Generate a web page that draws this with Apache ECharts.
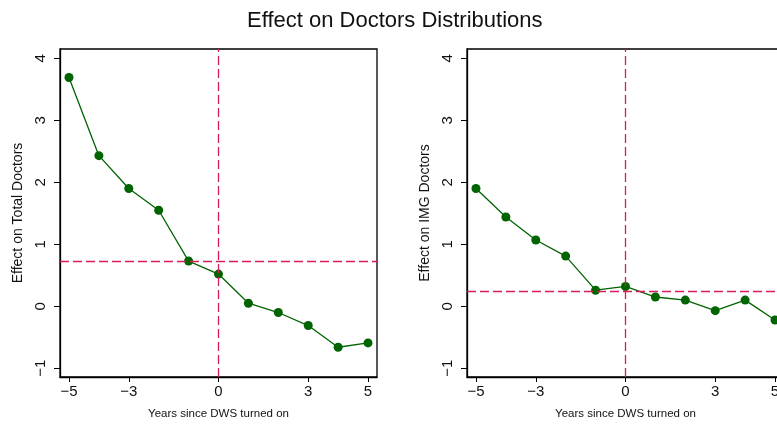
<!DOCTYPE html>
<html>
<head>
<meta charset="utf-8">
<script src="https://cdn.jsdelivr.net/npm/echarts@6/dist/echarts.min.js"></script>
<style>
html,body{margin:0;padding:0;background:#fff;overflow:hidden;width:777px;height:425px;}
#chart{width:790px;height:425px;}
</style>
</head>
<body>
<div id="chart"></div>
<script>
const years = [-5, -4, -3, -2, -1, 0, 1, 2, 3, 4, 5];
const totalEffect = [3.69, 2.43, 1.90, 1.55, 0.73, 0.52, 0.05, -0.10, -0.31, -0.66, -0.59];
const imgEffect = [1.90, 1.44, 1.07, 0.81, 0.26, 0.32, 0.15, 0.10, -0.07, 0.10, -0.22];
const totalMean = 0.72;
const imgMean = 0.25;
const xTicks = [-5, -3, 0, 3, 5];
const yTicks = [-1, 0, 1, 2, 3, 4];
const titleText = 'Effect on Doctors Distributions';
const xName = 'Years since DWS turned on';
const yNames = ['Effect on Total Doctors', 'Effect on IMG Doctors'];

const FONT = 'Liberation Sans, Arial, Helvetica, sans-serif';
const lineColor = '#006400';
const refColor = '#d81b5a';

function fmt(v) { return v < 0 ? '\u2212' + Math.abs(v) : String(v); }

function xAxisCfg(idx) {
  return {
    type: 'value', gridIndex: idx, min: -5.3, max: 5.3,
    name: xName, nameLocation: 'middle', nameGap: 31,
    nameTextStyle: {fontFamily: FONT, fontSize: 11.5, color: '#111'},
    axisLine: {show: true, onZero: false, lineStyle: {color: '#000', width: 1.3}},
    axisTick: {show: true, length: 5, customValues: xTicks, lineStyle: {color: '#000'}},
    axisLabel: {customValues: xTicks, margin: 7, fontFamily: FONT, fontSize: 15, color: '#111', formatter: fmt},
    splitLine: {show: false}
  };
}
function yAxisCfg(idx) {
  return {
    type: 'value', gridIndex: idx, min: -1.14, max: 4.15,
    name: yNames[idx], nameLocation: 'middle', nameGap: 35,
    nameTextStyle: {fontFamily: FONT, fontSize: 14, color: '#111'},
    axisLine: {show: true, onZero: false, lineStyle: {color: '#000', width: 1.3}},
    axisTick: {show: true, length: 6, customValues: yTicks, lineStyle: {color: '#000'}},
    axisLabel: {customValues: yTicks, rotate: 90, margin: 12, fontFamily: FONT, fontSize: 15, color: '#111', formatter: fmt},
    splitLine: {show: false}
  };
}
function seriesCfg(idx, data, mean) {
  return {
    type: 'line', xAxisIndex: idx, yAxisIndex: idx,
    data: years.map((x, i) => [x, data[i]]),
    symbol: 'circle', symbolSize: 9,
    lineStyle: {color: lineColor, width: 1.3},
    itemStyle: {color: lineColor},
    animation: false, z: 3,
    markLine: {
      silent: true, symbol: 'none', animation: false,
      label: {show: false},
      lineStyle: {color: refColor, width: 1.3, type: [9, 4]},
      data: [{xAxis: 0}, {yAxis: mean}]
    }
  };
}

const chart = echarts.init(document.getElementById('chart'), null, {renderer: 'canvas'});
chart.setOption({
  backgroundColor: '#fff',
  animation: false,
  title: {text: titleText, left: 242, top: 5,
    textStyle: {fontFamily: FONT, fontSize: 22, fontWeight: 'normal', color: '#111'}},
  grid: [
    {left: 60, top: 49, width: 317, height: 328, show: true, borderColor: '#000', borderWidth: 1.3, containLabel: false},
    {left: 467, top: 49, width: 317, height: 328, show: true, borderColor: '#000', borderWidth: 1.3, containLabel: false}
  ],
  xAxis: [xAxisCfg(0), xAxisCfg(1)],
  yAxis: [yAxisCfg(0), yAxisCfg(1)],
  series: [seriesCfg(0, totalEffect, totalMean), seriesCfg(1, imgEffect, imgMean)]
});
</script>
</body>
</html>
